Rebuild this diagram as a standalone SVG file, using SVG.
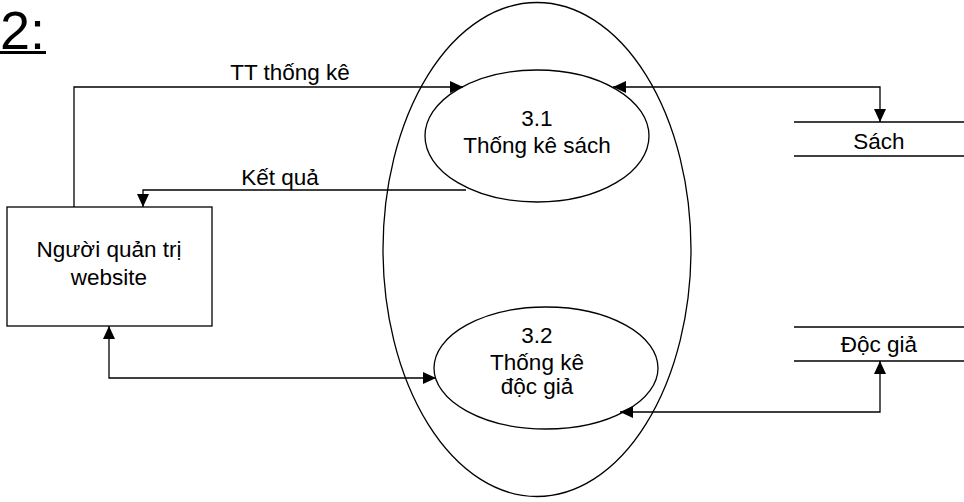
<svg xmlns="http://www.w3.org/2000/svg" width="964" height="502" viewBox="0 0 964 502">
<style>
text{font-family:"Liberation Sans",Arial,sans-serif;fill:#000}
.t{font-size:22.5px}
.shape{fill:none;stroke:#000;stroke-width:1.3}
.c{fill:none;stroke:#000;stroke-width:1.3}
</style>
<defs>
<marker id="ah" markerWidth="14" markerHeight="12" refX="13" refY="6" orient="auto" markerUnits="userSpaceOnUse">
<path d="M0,0 L13,6 L0,12 Z" fill="#000"/>
</marker>
<marker id="as" markerWidth="14" markerHeight="12" refX="1" refY="6" orient="auto" markerUnits="userSpaceOnUse">
<path d="M14,0 L1,6 L14,12 Z" fill="#000"/>
</marker>
</defs>
<g id="title">
<text x="0" y="49" font-size="54">2:</text>
<rect x="0" y="51" width="46" height="3" fill="#000"/>
</g>
<g id="boundary"><ellipse class="shape" cx="537" cy="249.5" rx="154" ry="247"/></g>
<g id="p31">
<ellipse class="shape" cx="537" cy="136" rx="112" ry="66"/>
<text class="t" x="537" y="126" text-anchor="middle">3.1</text>
<text class="t" x="537" y="153" text-anchor="middle">Thống kê sách</text>
</g>
<g id="p32">
<ellipse class="shape" cx="546" cy="368" rx="112" ry="61"/>
<text class="t" x="537" y="343" text-anchor="middle">3.2</text>
<text class="t" x="537" y="370" text-anchor="middle">Thống kê</text>
<text class="t" x="537" y="394" text-anchor="middle">độc giả</text>
</g>
<g id="admin">
<rect class="shape" x="7" y="207" width="205" height="119"/>
<text class="t" x="109" y="257" text-anchor="middle">Người quản trị</text>
<text class="t" x="109" y="285" text-anchor="middle">website</text>
</g>
<g id="sach">
<line class="shape" x1="794" y1="122" x2="964" y2="122"/>
<line class="shape" x1="794" y1="156" x2="964" y2="156"/>
<text class="t" x="879" y="149" text-anchor="middle">Sách</text>
</g>
<g id="docgia">
<line class="shape" x1="794" y1="327" x2="964" y2="327"/>
<line class="shape" x1="794" y1="361" x2="964" y2="361"/>
<text class="t" x="879" y="352" text-anchor="middle">Độc giả</text>
</g>
<g id="connectors">
<polyline class="c" points="74,207 74,87 463,87" marker-end="url(#ah)"/>
<text class="t" x="290" y="80" text-anchor="middle">TT thống kê</text>
<polyline class="c" points="466,190 143,190 143,207" marker-end="url(#ah)"/>
<text class="t" x="280" y="185" text-anchor="middle">Kết quả</text>
<polyline class="c" points="613,87 880,87 880,122" marker-start="url(#as)" marker-end="url(#ah)"/>
<polyline class="c" points="620,412 880,412 880,361" marker-start="url(#as)" marker-end="url(#ah)"/>
<polyline class="c" points="109,326 109,378 436,378" marker-start="url(#as)" marker-end="url(#ah)"/>
</g>
</svg>
